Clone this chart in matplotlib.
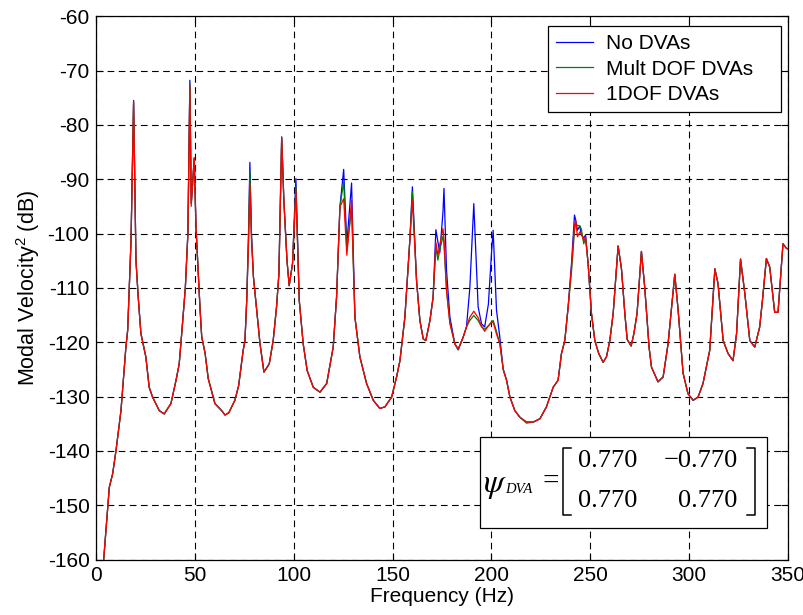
import matplotlib
matplotlib.use("Agg")
import matplotlib.pyplot as plt
from matplotlib.patches import Rectangle
from matplotlib.lines import Line2D

plt.rcParams["font.family"] = ["Liberation Sans", "DejaVu Sans"]
plt.rcParams["axes.unicode_minus"] = False
plt.rcParams["mathtext.fontset"] = "custom"
plt.rcParams["mathtext.rm"] = "Liberation Sans"
plt.rcParams["mathtext.it"] = "Liberation Sans:italic"

# Frequency grid (Hz)
freq = [
    3.0, 6.5, 8.2, 9.9, 12.4, 14.9, 15.8, 16.6, 17.5, 18.8,
    20.0, 21.2, 22.5, 25.0, 26.7, 28.4, 31.8, 34.3, 37.7, 40.3,
    41.9, 43.3, 45.0, 46.3, 47.3, 48.0, 49.5, 50.4, 52.4, 53.3,
    55.0, 56.6, 60.0, 63.4, 65.1, 67.0, 70.1, 72.0, 74.3, 75.2,
    76.1, 77.0, 77.7, 78.5, 79.5, 81.1, 82.8, 84.8, 87.5, 89.5,
    91.2, 92.4, 93.8, 94.9, 96.5, 97.6, 99.3, 101.0, 102.7, 104.7,
    106.7, 109.8, 113.2, 116.6, 119.9, 121.6, 123.3, 125.2, 126.8, 129.2,
    130.9, 133.4, 136.8, 140.2, 143.5, 146.1, 149.5, 152.0, 153.7, 156.2,
    158.7, 160.0, 162.1, 163.8, 165.5, 166.8, 168.9, 170.5, 171.9, 172.9,
    173.9, 175.5, 176.0, 177.3, 179.0, 181.5, 183.2, 185.7, 187.4, 189.1,
    191.1, 193.3, 195.0, 196.6, 198.5, 200.0, 200.9, 202.6, 204.3, 206.0,
    207.7, 209.4, 211.9, 214.4, 217.8, 221.2, 224.6, 227.9, 231.3, 233.8,
    235.5, 237.2, 238.9, 240.6, 242.1, 242.7, 243.6, 244.8, 245.6, 246.8,
    247.7, 249.0, 250.7, 252.4, 254.4, 256.6, 258.3, 260.0, 261.7, 264.2,
    265.9, 267.6, 268.8, 270.8, 272.2, 273.8, 276.0, 277.7, 279.9, 281.1,
    284.4, 287.0, 289.5, 292.9, 294.6, 297.1, 299.6, 302.2, 304.7, 307.2,
    310.6, 313.2, 314.8, 317.4, 319.9, 322.4, 324.2, 326.2, 328.4, 330.9,
    333.4, 335.9, 337.3, 339.3, 341.0, 343.5, 345.2, 347.7, 349.4, 351.0,
]

# Modal velocity squared (dB), plate without absorbers
no_dva = [
    -163.0, -146.7, -144.2, -139.9, -132.6, -120.9, -117.8, -109.9, -101.3, -75.5,
    -105.0, -112.0, -118.4, -122.7, -128.3, -130.1, -132.6, -133.2, -131.3, -127.0,
    -124.0, -117.8, -110.0, -100.0, -71.8, -94.5, -86.2, -98.8, -113.5, -119.0,
    -122.0, -126.7, -131.3, -132.6, -133.4, -133.0, -130.7, -128.0, -121.5, -119.7,
    -112.3, -100.0, -86.9, -100.0, -108.0, -114.0, -120.2, -125.5, -124.0, -119.7,
    -113.5, -107.4, -82.2, -93.9, -105.0, -109.6, -105.5, -89.9, -112.3, -120.3,
    -125.2, -128.3, -129.2, -127.6, -120.9, -111.7, -95.1, -88.2, -101.9, -90.7,
    -115.4, -122.7, -127.6, -130.7, -132.2, -131.9, -130.1, -126.4, -123.4, -115.4,
    -101.3, -91.4, -108.6, -116.0, -119.4, -119.7, -116.0, -111.7, -99.3, -101.5,
    -103.5, -96.0, -91.7, -106.8, -115.4, -120.3, -121.4, -119.1, -117.2, -110.0,
    -94.5, -113.5, -116.6, -117.2, -113.0, -104.0, -99.4, -114.1, -119.1, -125.0,
    -127.0, -130.1, -132.6, -133.8, -134.7, -134.7, -134.1, -131.9, -128.3, -127.0,
    -122.1, -119.7, -113.5, -105.5, -96.6, -97.5, -99.4, -98.6, -100.3, -100.8,
    -100.3, -105.5, -114.7, -119.7, -122.1, -123.7, -122.7, -119.7, -114.7, -102.3,
    -106.5, -114.7, -119.5, -120.7, -118.4, -114.7, -103.3, -110.0, -121.0, -124.6,
    -127.3, -126.4, -120.3, -107.5, -114.1, -125.7, -129.5, -130.7, -130.1, -127.6,
    -121.5, -106.5, -109.2, -119.7, -122.1, -123.4, -118.4, -104.7, -111.1, -119.7,
    -120.9, -117.2, -112.3, -104.6, -106.2, -114.5, -114.5, -101.9, -102.7, -103.0,
]

# Multi-degree-of-freedom absorbers
mult_dof = [
    -163.0, -146.7, -144.2, -139.9, -132.6, -120.9, -117.8, -109.9, -101.3, -75.7,
    -105.0, -112.0, -118.4, -122.7, -128.3, -130.1, -132.6, -133.2, -131.3, -127.0,
    -124.0, -117.8, -110.0, -100.0, -72.4, -94.5, -86.2, -98.8, -113.5, -119.0,
    -122.0, -126.7, -131.3, -132.6, -133.4, -133.0, -130.7, -128.0, -121.5, -119.7,
    -112.3, -101.0, -88.5, -100.5, -108.0, -114.0, -120.2, -125.5, -124.0, -119.7,
    -113.5, -107.4, -82.3, -93.9, -105.0, -109.6, -105.5, -91.3, -112.3, -120.3,
    -125.2, -128.3, -129.2, -127.6, -120.9, -111.7, -95.1, -90.5, -103.1, -95.5,
    -115.4, -122.7, -127.6, -130.7, -132.2, -131.9, -130.1, -126.4, -123.4, -115.4,
    -101.3, -92.3, -108.6, -116.0, -119.4, -119.7, -116.0, -111.7, -102.5, -104.9,
    -103.0, -100.5, -102.0, -110.5, -116.5, -120.3, -121.4, -119.1, -117.2, -116.0,
    -115.1, -116.0, -117.2, -117.6, -117.0, -116.3, -116.0, -118.0, -120.3, -125.0,
    -127.0, -130.1, -132.6, -133.8, -134.9, -134.7, -134.1, -131.9, -128.3, -127.0,
    -122.1, -119.7, -113.5, -107.0, -99.5, -98.2, -98.5, -98.6, -99.2, -101.9,
    -100.8, -105.5, -114.7, -119.7, -122.1, -123.7, -122.7, -119.7, -114.7, -102.3,
    -106.5, -114.7, -119.5, -120.7, -118.4, -114.7, -103.3, -110.0, -121.0, -124.6,
    -127.3, -126.4, -120.3, -107.5, -114.1, -125.7, -129.5, -130.7, -130.1, -127.6,
    -121.5, -106.5, -109.2, -119.7, -122.1, -123.4, -118.4, -104.7, -111.1, -119.7,
    -120.9, -117.2, -112.3, -104.6, -106.2, -114.5, -114.5, -101.9, -102.7, -103.0,
]

# Single-degree-of-freedom absorbers
one_dof = [
    -163.0, -146.7, -144.2, -139.9, -132.6, -120.9, -117.8, -109.9, -101.3, -75.9,
    -105.0, -112.0, -118.4, -122.7, -128.3, -130.1, -132.6, -133.2, -131.3, -127.0,
    -124.0, -117.8, -110.0, -100.0, -72.9, -95.0, -86.0, -98.8, -113.5, -119.0,
    -122.0, -126.7, -131.3, -132.6, -133.4, -133.0, -130.7, -128.0, -121.5, -119.7,
    -112.3, -102.0, -90.8, -101.0, -108.0, -114.0, -120.2, -125.5, -124.0, -119.7,
    -113.5, -107.4, -82.4, -93.9, -105.0, -109.6, -105.5, -92.0, -112.3, -120.3,
    -125.2, -128.3, -129.2, -127.6, -120.9, -111.7, -95.1, -93.6, -104.0, -93.9,
    -115.4, -122.7, -127.6, -130.7, -132.2, -131.9, -130.1, -126.4, -123.4, -115.4,
    -101.3, -93.9, -108.6, -116.0, -119.4, -119.7, -116.0, -111.7, -101.6, -104.0,
    -102.0, -99.1, -101.0, -110.5, -116.5, -120.3, -121.2, -119.1, -117.2, -115.4,
    -114.3, -115.5, -117.0, -118.0, -117.0, -116.4, -116.3, -118.5, -120.3, -125.0,
    -127.0, -130.1, -132.6, -133.8, -134.7, -134.7, -134.1, -131.9, -128.3, -127.0,
    -122.1, -119.7, -113.5, -106.0, -98.5, -97.6, -100.6, -99.7, -100.0, -101.3,
    -100.6, -105.5, -114.7, -119.7, -122.1, -123.7, -122.7, -119.7, -114.7, -102.3,
    -106.5, -114.7, -119.5, -120.7, -118.4, -114.7, -103.3, -110.0, -121.0, -124.6,
    -127.3, -126.4, -120.3, -107.5, -114.1, -125.7, -129.5, -130.7, -130.1, -127.6,
    -121.5, -106.5, -109.2, -119.7, -122.1, -123.4, -118.4, -104.7, -111.1, -119.7,
    -120.9, -117.2, -112.3, -104.6, -106.2, -114.5, -114.5, -101.9, -102.7, -103.0,
]

series_labels = ["No DVAs", "Mult DOF DVAs", "1DOF DVAs"]
series_colors = ["#0000ff", "#008000", "#ff0000"]
x_ticks = [0, 50, 100, 150, 200, 250, 300, 350]
y_ticks = [-160, -150, -140, -130, -120, -110, -100, -90, -80, -70, -60]
psi_matrix = [["0.770", "\u22120.770"], ["0.770", "0.770"]]

fig = plt.figure(figsize=(8.04, 6.15), dpi=100)
ax = fig.add_axes([0.12, 0.0902, 0.8595, 0.8835])

for ys, lab, col in zip([no_dva, mult_dof, one_dof], series_labels, series_colors):
    ax.plot(freq, ys, color=col, lw=0.9, label=lab)

ax.set_xlim(0, 350)
ax.set_ylim(-160, -60)
ax.set_xticks(x_ticks)
ax.set_yticks(y_ticks)
ax.grid(True, color="black", linestyle=(0, (6, 4)), linewidth=0.8)
ax.tick_params(direction="in", top=True, right=True, length=5, width=0.8,
               labelsize=15, pad=5)
for s in ax.spines.values():
    s.set_linewidth(0.9)

ax.set_xlabel("Frequency (Hz)", fontsize=15, labelpad=1)
ax.set_ylabel("Modal Velocity$^2$ (dB)", fontsize=15.5, labelpad=4)

leg = ax.legend(loc="upper left", bbox_to_anchor=(0.6534, 0.0, 0.3372, 0.982),
                mode="expand", fontsize=15, handlelength=1.8, handletextpad=0.6,
                labelspacing=0.32, borderpad=0.38, borderaxespad=0.0,
                fancybox=False, framealpha=1.0, edgecolor="black")
leg.get_frame().set_linewidth(0.9)

# Mode-shape matrix annotation
ax.add_patch(Rectangle((0.555, 0.058), 0.415, 0.1675, transform=ax.transAxes,
                       facecolor="white", edgecolor="black", lw=0.9, zorder=5))
ax.text(0.559, 0.137, r"$\psi$", transform=ax.transAxes, fontsize=24,
        ha="left", va="center", zorder=6, math_fontfamily="stix")
ax.text(0.592, 0.128, "DVA", transform=ax.transAxes, fontsize=10.5,
        family="Liberation Serif", style="italic", ha="left", va="center", zorder=6)
ax.text(0.657, 0.143, "=", transform=ax.transAxes, fontsize=21,
        family="Liberation Serif", ha="center", va="center", zorder=6)

# brackets
bl, br, bt, bb, bw = 0.675, 0.953, 0.205, 0.082, 0.011
for xs, ys in [([bl + bw, bl, bl, bl + bw], [bt, bt, bb, bb]),
               ([br - bw, br, br, br - bw], [bt, bt, bb, bb])]:
    ax.add_line(Line2D(xs, ys, transform=ax.transAxes, color="black",
                       lw=1.1, zorder=6))

col_x = [0.783, 0.928]
row_y = [0.181, 0.108]
for i, row in enumerate(psi_matrix):
    for j, val in enumerate(row):
        ax.text(col_x[j], row_y[i], val, transform=ax.transAxes, fontsize=19,
                family="Liberation Serif", ha="right", va="center", zorder=6)

fig.savefig("out.png", dpi=100)
